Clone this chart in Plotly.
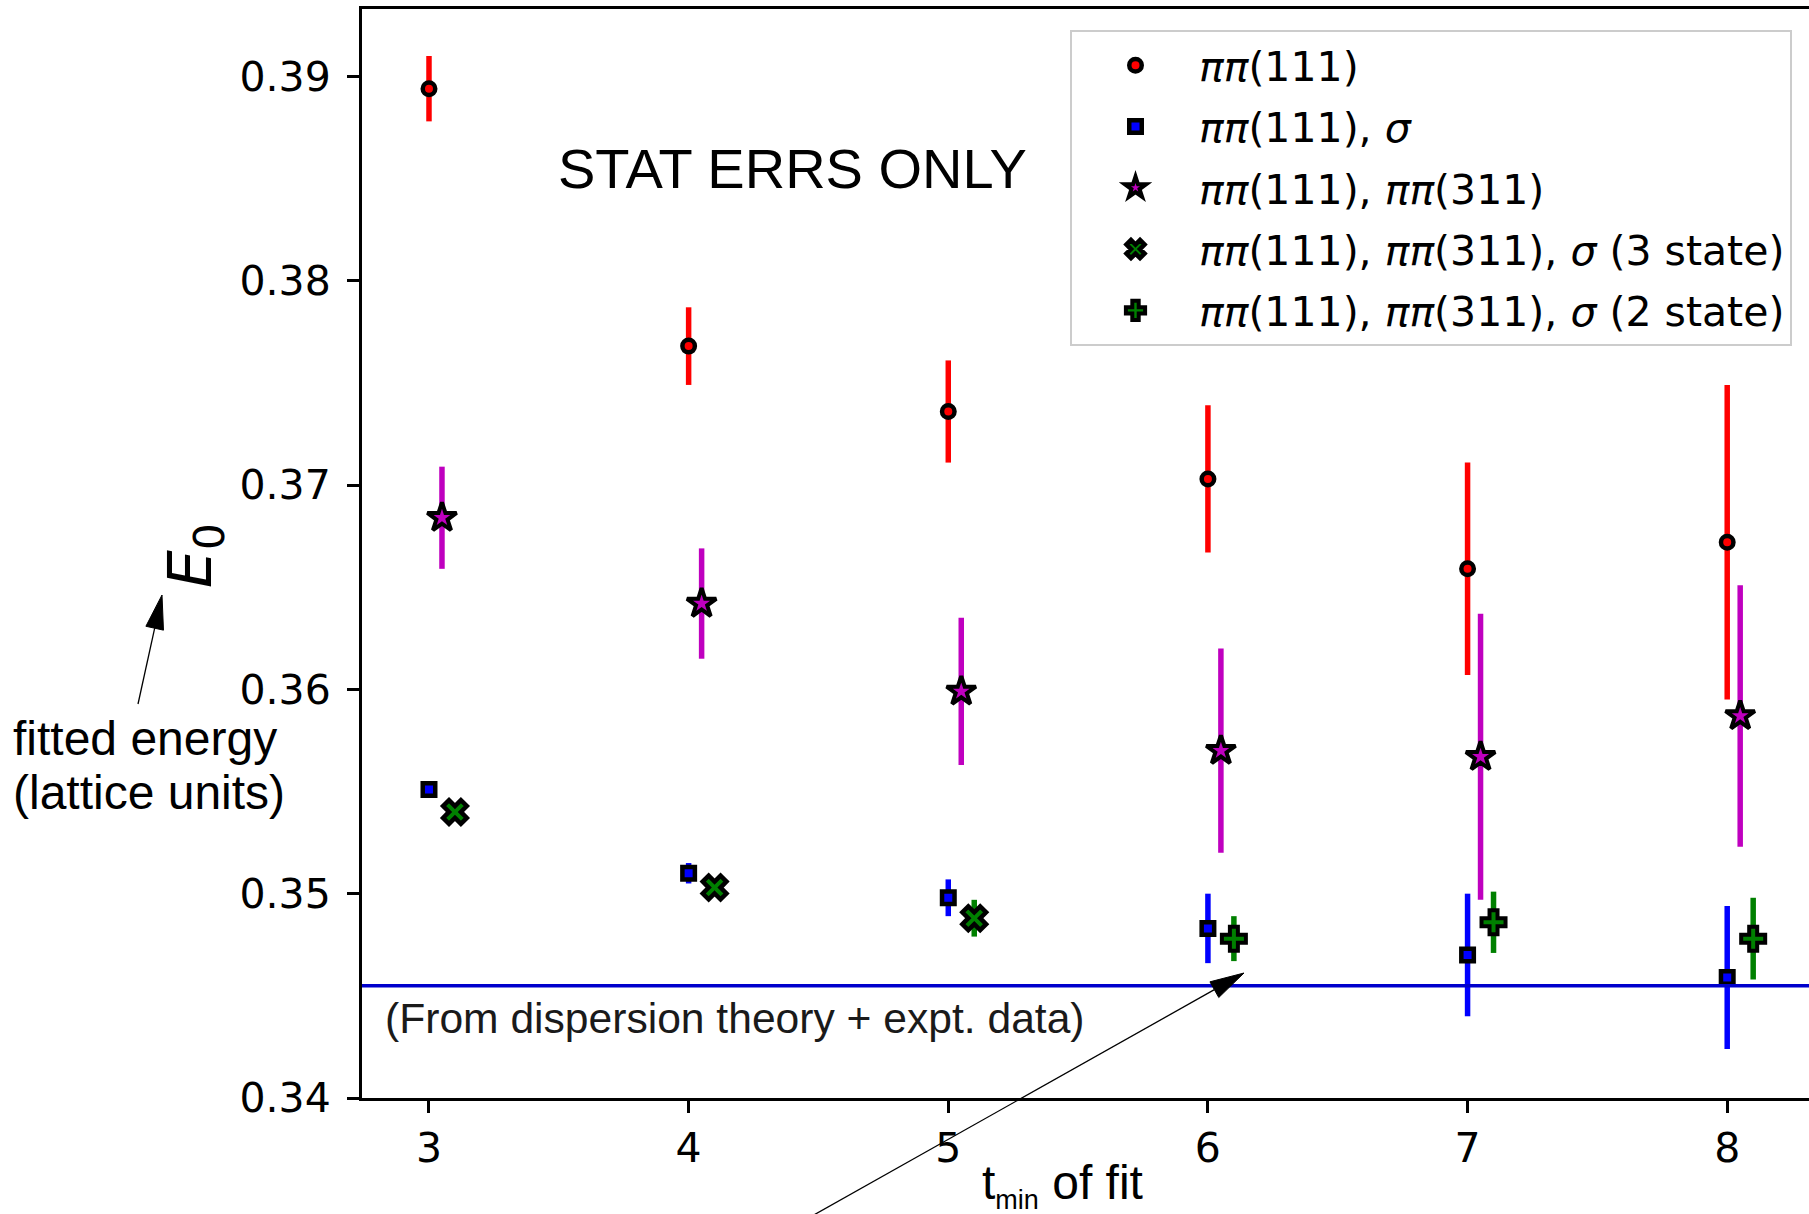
import math
import plotly.graph_objects as go

# ---------------- data ----------------
t_min = [3, 4, 5, 6, 7, 8]

pipi111 = [0.3894, 0.3768, 0.3736, 0.3703, 0.3659, 0.3672]
pipi111_err = [0.0016, 0.0019, 0.0025, 0.0036, 0.0052, 0.0077]

pipi111_sigma = [0.3551, 0.3510, 0.3498, 0.3483, 0.3470, 0.3459]
pipi111_sigma_err = [0.0004, 0.0005, 0.0009, 0.0017, 0.0030, 0.0035]

pipi111_311 = [0.3684, 0.3642, 0.3599, 0.3570, 0.3567, 0.3587]
pipi111_311_err = [0.0025, 0.0027, 0.0036, 0.0050, 0.0070, 0.0064]

t_min_3state = [3, 4, 5]
all_3state = [0.3540, 0.3503, 0.3488]
all_3state_err = [0.0003, 0.0004, 0.0009]

t_min_2state = [6, 7, 8]
all_2state = [0.3478, 0.3486, 0.3478]
all_2state_err = [0.0011, 0.0015, 0.0020]

E_dispersion = 0.3455

x_tick_labels = ["3", "4", "5", "6", "7", "8"]
y_tick_vals = [0.34, 0.35, 0.36, 0.37, 0.38, 0.39]

# horizontal offsets of the series
OFF_311 = 0.05
OFF_ALL = 0.10

# ---------------- layout geometry ----------------
FIG_W, FIG_H = 1809, 1214
M_L, M_R, M_T, M_B = 362, 0, 9, 116
PW = FIG_W - M_L - M_R
PH = FIG_H - M_T - M_B


def px_x(X):
    return (X - M_L) / PW


def px_y(Y):
    return 1 - (Y - M_T) / PH


fig = go.Figure()


def add_series(x, y, err, color, symbol, size, name, lw=4):
    fig.add_trace(go.Scatter(
        x=x, y=y, mode="markers", name=name, legendgroup=name,
        marker=dict(symbol=symbol, size=size, color=color,
                    line=dict(color="black", width=lw)),
        error_y=dict(type="data", array=err, color=color, thickness=5.5, width=0),
    ))


add_series(t_min, pipi111, pipi111_err, "#ff0000", "circle", 12.5,
           "<i>ππ</i>(111)", lw=4.5)
add_series(t_min, pipi111_sigma, pipi111_sigma_err, "#0000ff", "square", 12.5,
           "<i>ππ</i>(111), <i>σ</i>", lw=4.5)
add_series([t + OFF_311 for t in t_min], pipi111_311, pipi111_311_err, "#bf00bf",
           "star", 22, "<i>ππ</i>(111), <i>ππ</i>(311)", lw=4)
add_series([t + OFF_ALL for t in t_min_3state], all_3state, all_3state_err, "#008000",
           "x", 21, "<i>ππ</i>(111), <i>ππ</i>(311), <i>σ</i> (3 state)", lw=4.5)
add_series([t + OFF_ALL for t in t_min_2state], all_2state, all_2state_err, "#008000",
           "cross", 20, "<i>ππ</i>(111), <i>ππ</i>(311), <i>σ</i> (2 state)", lw=4)

fig.add_hline(y=E_dispersion, line=dict(color="#0000cc", width=3.5))


# ---- arrows (annotation graphics, matplotlib-like narrow heads) ----
def arrow_shapes(tail, head, head_len=34, head_half=9, lw=1.3):
    tx, ty = tail
    hx, hy = head
    dx, dy = hx - tx, hy - ty
    d = math.hypot(dx, dy)
    ux, uy = dx / d, dy / d
    bx, by = hx - ux * head_len, hy - uy * head_len
    px, py = -uy, ux
    p1 = (bx + px * head_half, by + py * head_half)
    p2 = (bx - px * head_half, by - py * head_half)
    line = dict(type="line", xref="paper", yref="paper",
                x0=px_x(tx), y0=px_y(ty), x1=px_x(bx), y1=px_y(by),
                line=dict(color="black", width=lw))
    path = "M {} {} L {} {} L {} {} Z".format(
        px_x(hx), px_y(hy), px_x(p1[0]), px_y(p1[1]), px_x(p2[0]), px_y(p2[1]))
    tri = dict(type="path", xref="paper", yref="paper", path=path,
               fillcolor="black", line=dict(color="black", width=1))
    return [line, tri]


shapes = arrow_shapes((138, 704), (162, 595)) + arrow_shapes((812, 1216), (1244, 973))
for s in shapes:
    fig.add_shape(**s)

ann_font = "Liberation Sans, Arial, sans-serif"
annotations = [
    dict(text="STAT ERRS ONLY", x=px_x(792), y=px_y(168), xref="paper", yref="paper",
         showarrow=False, xanchor="center", yanchor="middle",
         font=dict(family=ann_font, size=56, color="black")),
    dict(text="(From dispersion theory + expt. data)", x=px_x(383), y=px_y(1018),
         xref="paper", yref="paper", showarrow=False, xanchor="left", yanchor="middle",
         font=dict(family=ann_font, size=42.6, color="#1a1a1a")),
    dict(text="fitted energy", x=px_x(11), y=px_y(738), xref="paper", yref="paper",
         showarrow=False, xanchor="left", yanchor="middle",
         font=dict(family=ann_font, size=48, color="black")),
    dict(text="(lattice units)", x=px_x(11), y=px_y(792), xref="paper", yref="paper",
         showarrow=False, xanchor="left", yanchor="middle",
         font=dict(family=ann_font, size=48, color="black")),
    dict(text="t<sub><span style='font-size:27px'>min</span></sub> of fit",
         x=px_x(1062), y=px_y(1185), xref="paper", yref="paper",
         showarrow=False, xanchor="center", yanchor="middle",
         font=dict(family=ann_font, size=48, color="black")),
    dict(text="<i>E</i><sub>0</sub>", x=px_x(194), y=px_y(556), xref="paper", yref="paper",
         showarrow=False, xanchor="center", yanchor="middle", textangle=-90,
         font=dict(family="DejaVu Sans", size=60, color="black")),
]

fig.update_layout(
    width=FIG_W, height=FIG_H, autosize=False,
    margin=dict(l=M_L, r=M_R, t=M_T, b=M_B, pad=0),
    paper_bgcolor="white", plot_bgcolor="white",
    annotations=annotations,
    showlegend=True,
    legend=dict(
        x=px_x(1070), y=px_y(30), xanchor="left", yanchor="top",
        bgcolor="rgba(255,255,255,0.85)", bordercolor="#cccccc", borderwidth=2,
        font=dict(family="DejaVu Sans", size=41, color="black"),
        traceorder="grouped", tracegroupgap=5, itemwidth=117,
    ),
    xaxis=dict(
        range=[2.742, 8.315], tickvals=t_min, ticktext=x_tick_labels,
        showline=True, linecolor="black", linewidth=3, mirror=True,
        ticks="outside", ticklen=12, tickwidth=2.5, tickcolor="black",
        showgrid=False, zeroline=False,
        tickfont=dict(family="DejaVu Sans", size=41, color="black"),
    ),
    yaxis=dict(
        range=[0.34, 0.3933], tickvals=y_tick_vals, tickformat=".2f",
        showline=True, linecolor="black", linewidth=3, mirror=False,
        ticks="outside", ticklen=12, tickwidth=2.5, tickcolor="black",
        ticklabelstandoff=8,
        showgrid=False, zeroline=False,
        tickfont=dict(family="DejaVu Sans", size=41, color="black"),
    ),
)

fig.write_html("out.html", config={"displayModeBar": False},
               post_script="document.body.style.margin='0';document.body.style.overflow='hidden';")
